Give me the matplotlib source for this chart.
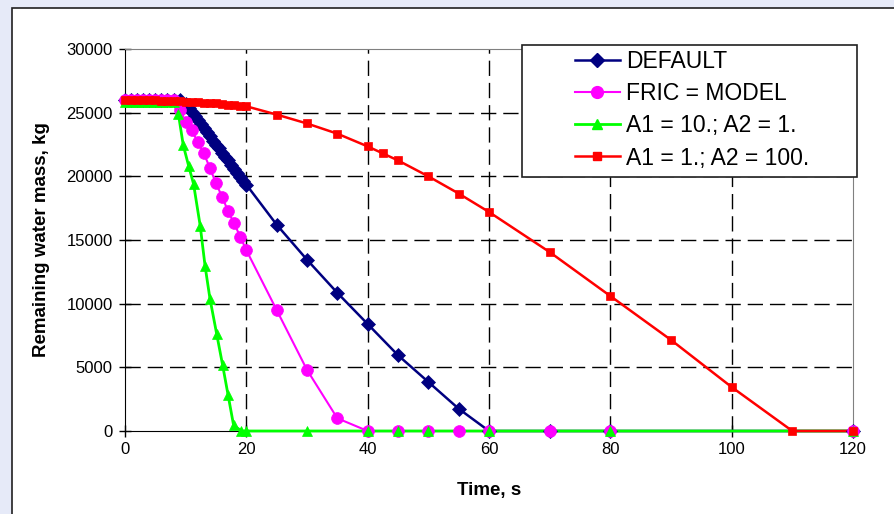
import matplotlib
matplotlib.use("Agg")
import matplotlib.pyplot as plt
from matplotlib.lines import Line2D
from matplotlib.patches import Rectangle

plt.rcParams['font.family'] = ['Liberation Sans', 'DejaVu Sans']

# DEFAULT
t_def = [0, 1, 2, 3, 4, 5, 6, 7, 8, 9, 10, 10.5, 11, 11.5, 12, 12.5, 13, 13.5, 14, 14.5,
         15, 15.5, 16, 16.5, 17, 17.5, 18, 18.5, 19, 19.5, 20, 25, 30, 35, 40, 45, 50, 55,
         60, 70, 80, 120]
m_def = [26000, 26000, 26000, 26000, 26000, 26000, 26000, 26000, 26000, 26000, 25700, 25400,
         25050, 24750, 24400, 24100, 23800, 23450, 23150, 22800, 22500, 22200, 21850, 21550,
         21250, 20900, 20600, 20300, 19950, 19650, 19350, 16200, 13450, 10850, 8400, 5950,
         3850, 1750, 0, 0, 0, 0]

# FRIC = MODEL
t_fric = [0, 1, 2, 3, 4, 5, 6, 7, 8, 9, 10, 11, 12, 13, 14, 15, 16, 17, 18, 19, 20,
          25, 30, 35, 40, 45, 50, 55, 60, 70, 80, 120]
m_fric = [26000, 26000, 26000, 26000, 26000, 26000, 26000, 26000, 26000, 25200, 24300,
          23600, 22700, 21800, 20650, 19450, 18400, 17250, 16300, 15250, 14200,
          9500, 4800, 1000, 0, 0, 0, 0, 0, 0, 0, 0]

# A1 = 10.; A2 = 1.
t_a10 = [0, 1, 2, 3, 4, 5, 6, 7, 8, 8.8, 9.6, 10.5, 11.3, 12.4, 13.2, 14.0, 15.1, 16.1,
         17.0, 17.9, 19.2, 20, 30, 40, 45, 50, 60, 80, 120]
m_a10 = [25850, 25850, 25850, 25850, 25850, 25850, 25850, 25850, 25850, 24900, 22450,
         20800, 19400, 16100, 12950, 10400, 7650, 5150, 2800, 450, 0, 0, 0, 0, 0, 0, 0, 0, 0]

# A1 = 1.; A2 = 100.
t_a1 = [0, 1, 2, 3, 4, 5, 6, 7, 8, 9, 10, 11, 12, 13, 14, 15, 16, 17, 18, 19, 20,
        25, 30, 35, 40, 42.5, 45, 50, 55, 60, 70, 80, 90, 100, 110, 120]
m_a1 = [26000, 26000, 26000, 25990, 25980, 25970, 25950, 25930, 25910, 25890, 25870,
        25840, 25810, 25780, 25750, 25720, 25680, 25640, 25600, 25560, 25500,
        24850, 24150, 23350, 22350, 21800, 21250, 20000, 18650, 17200, 14050, 10600,
        7150, 3450, 0, 0]

series = [
    ("DEFAULT", t_def, m_def, '#000080', 'D', 7.5, 1.8),
    ("FRIC = MODEL", t_fric, m_fric, '#FF00FF', 'o', 8.5, 1.5),
    ("A1 = 10.; A2 = 1.", t_a10, m_a10, '#00FF00', '^', 7, 2.0),
    ("A1 = 1.; A2 = 100.", t_a1, m_a1, '#FF0000', 's', 6, 1.8),
]

fig = plt.figure(figsize=(8.94, 5.14), dpi=100)
fig.patch.set_facecolor('#e6eaf8')
W, H = 894, 514

# white chart area with dark border
fig.patches.append(Rectangle((12 / W, -0.05), 1.0, (H - 8) / H + 0.05,
                             transform=fig.transFigure, facecolor='white',
                             edgecolor='#202020', lw=1.2, zorder=-1))

ax = fig.add_axes([125 / W, (H - 431) / H, 728 / W, 382 / H])
ax.set_xlim(0, 120)
ax.set_ylim(0, 30000)
ax.set_xticks(range(0, 121, 20))
ax.set_yticks(range(0, 30001, 5000))

ax.grid(True, color='black', linestyle=(0, (11, 5)), lw=1.0)
for tk in ax.xaxis.get_major_ticks()[::6]:
    tk.gridline.set_visible(False)
for tk in [ax.yaxis.get_major_ticks()[0], ax.yaxis.get_major_ticks()[-1]]:
    tk.gridline.set_visible(False)

for s in ['top', 'right']:
    ax.spines[s].set_color('#808080')
for s in ['left', 'bottom']:
    ax.spines[s].set_color('black')

ax.tick_params(direction='inout', length=8, width=1, labelsize=12, colors='black')
ax.tick_params(axis='x', pad=4)
ax.tick_params(axis='y', pad=5)

# lines first, markers on top (Excel style)
for i, (lab, t, m, c, mk, ms, lw) in enumerate(series):
    ax.plot(t, m, color=c, lw=lw, zorder=3 + i * 0.1, clip_on=False)
for i, (lab, t, m, c, mk, ms, lw) in enumerate(series):
    ax.plot(t, m, ls='none', marker=mk, ms=ms, color=c, mec=c, mew=0.5,
            zorder=4 + i * 0.1, clip_on=False)

ax.set_xlabel("Time, s", fontsize=13.5, fontweight='bold')
ax.set_ylabel("Remaining water mass, kg", fontsize=13.5, fontweight='bold')
ax.xaxis.set_label_coords(0.5, -0.133)
ax.yaxis.set_label_coords(-0.103, 0.5)

# legend box
fig.patches.append(Rectangle((522 / W, 1 - 177 / H), 335 / W, 132 / H,
                             transform=fig.transFigure, facecolor='white',
                             edgecolor='#202020', lw=1.2, zorder=2))
handles = [Line2D([], [], color=c, lw=lw, marker=mk, ms=ms, mec=c)
           for lab, t, m, c, mk, ms, lw in series]
labels = [s[0] for s in series]
fig.legend(handles, labels, loc='upper left', bbox_to_anchor=(575 / W, 1 - 50 / H),
           frameon=False, borderpad=0, borderaxespad=0, handlelength=1.96,
           handletextpad=0.25, labelspacing=0.4, fontsize=16.5)

fig.savefig("out.png", dpi=100)
